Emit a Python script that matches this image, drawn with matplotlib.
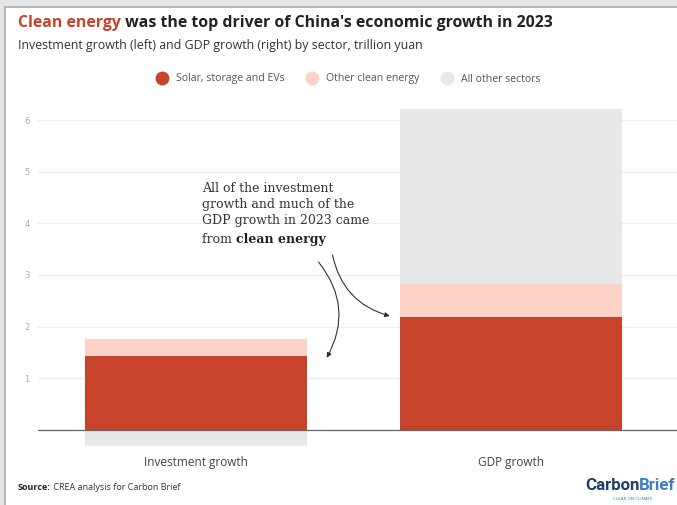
import matplotlib.pyplot as plt
from matplotlib.lines import Line2D
from matplotlib.patches import Rectangle

# growth in 2023, trillion yuan
categories = ["Investment growth", "GDP growth"]
solar_storage_evs = [1.43, 2.19]
other_clean = [0.33, 0.63]
all_other = [-0.31, 3.39]
series_names = ["Solar, storage and EVs", "Other clean energy", "All other sectors"]
yticks = [1, 2, 3, 4, 5, 6]

RED = "#c8432b"
PINK = "#fdd3c7"
GREY = "#e8e8e8"
SANS = "Open Sans"

fig = plt.figure(figsize=(6.77, 5.05), dpi=100)
fig.patch.set_facecolor("white")

# frame around the card
fig.patches.append(Rectangle((0, 1 - 6 / 505), 1, 6 / 505, transform=fig.transFigure,
                             facecolor="#e4e5e7", edgecolor="none", zorder=0))
fig.patches.append(Rectangle((0, 0), 5 / 677, 1, transform=fig.transFigure,
                             facecolor="#e4e5e7", edgecolor="none", zorder=0))
fig.lines.append(Line2D([5 / 677, 1], [1 - 7 / 505, 1 - 7 / 505], transform=fig.transFigure,
                        color="#a9aaad", lw=1.2))
fig.lines.append(Line2D([5.5 / 677, 5.5 / 677], [0, 1 - 7 / 505], transform=fig.transFigure,
                        color="#a9aaad", lw=1.2))

ax = fig.add_axes([38 / 677, 0.1129, 1 - 38 / 677, 0.675])
x = list(range(len(categories)))
w = 0.704

ax.bar(x, solar_storage_evs, width=w, color=RED, zorder=2)
ax.bar(x, other_clean, width=w, bottom=solar_storage_evs, color=PINK, zorder=2)
# the rest of the economy sits on top when it grew, hangs below zero when it shrank
other_bottom = [s + o if v > 0 else 0 for s, o, v in zip(solar_storage_evs, other_clean, all_other)]
ax.bar(x, all_other, width=w, bottom=other_bottom, color=GREY, zorder=2)

ax.set_xlim(-0.501, 1.525)
ax.set_ylim(-0.35, 6.25)
ax.set_yticks(yticks)
ax.set_yticklabels([str(t) for t in yticks])
ax.tick_params(axis="y", length=0, labelsize=6, labelcolor="#aaaaaa", pad=6)
ax.set_xticks([])
ax.grid(axis="y", color="#eeeeee", lw=0.9, zorder=0)
ax.axhline(0, color="#666666", lw=0.9, zorder=3)
for s in ax.spines.values():
    s.set_visible(False)

for xi, name in zip(x, categories):
    ax.text(xi, -0.5, name, ha="center", va="top", fontsize=8.5, color="#444444",
            fontfamily=SANS)

# annotation and arrows
note_font = dict(fontsize=9.0, family="DejaVu Serif")
ax.text(0.02, 4.8, "All of the investment\ngrowth and much of the\nGDP growth in 2023 came",
        color="#333333", va="top", linespacing=1.3, **note_font)
t_from = ax.text(0.02, 4.8 - 3 * 0.33, "from ", color="#333333", va="top", **note_font)
ax.annotate("clean energy", xy=(1, 0), xycoords=t_from, ha="left", va="bottom",
            color="#222222", fontweight="bold", **note_font)

arrow = dict(arrowstyle="-|>", color="#333333", lw=0.8, mutation_scale=7)
ax.annotate("", xy=(0.41, 1.35), xytext=(0.383, 3.29),
            arrowprops=dict(connectionstyle="arc3,rad=-0.35", **arrow))
ax.annotate("", xy=(1 - w / 2 - 0.025, solar_storage_evs[1]), xytext=(0.431, 3.44),
            arrowprops=dict(connectionstyle="arc3,rad=0.32", **arrow))

# title with coloured lead-in
t1 = fig.text(18 / 677, 1 - 23 / 505, "Clean energy", fontsize=11.4, fontweight="bold",
              color=RED, va="center", fontfamily=SANS)
fig.add_artist(plt.Annotation(" was the top driver of China's economic growth in 2023",
                              xy=(1, 0.5), xycoords=t1, va="center", ha="left",
                              fontsize=11.4, fontweight="bold", color="#222222",
                              fontfamily=SANS))
fig.text(18 / 677, 1 - 45 / 505,
         "Investment growth (left) and GDP growth (right) by sector, trillion yuan",
         fontsize=8.9, color="#333333", va="center", fontfamily=SANS)

handles = [Line2D([], [], marker="o", ls="none", markersize=9, color=c)
           for c in (RED, PINK, GREY)]
fig.legend(handles, series_names, loc="center", bbox_to_anchor=(346 / 677, 1 - 79 / 505),
           ncol=3, frameon=False, labelcolor="#555555", handletextpad=0.3,
           columnspacing=1.6, prop={"family": SANS, "size": 7.6})

src = fig.text(18 / 677, 1 - 487 / 505, "Source:", fontsize=6.5, fontweight="bold",
               color="#222222", va="center", fontfamily=SANS)
fig.add_artist(plt.Annotation(" CREA analysis for Carbon Brief", xy=(1, 0.5), xycoords=src,
                              va="center", ha="left", fontsize=6.5, color="#333333",
                              fontfamily=SANS))

# logo wordmark
logo = fig.text(585 / 677, 1 - 486 / 505, "Carbon", fontsize=12.2, fontweight="bold",
                color="#1e3f6b", va="center", fontfamily="Roboto")
fig.add_artist(plt.Annotation("Brief", xy=(1, 0.5), xycoords=logo, va="center", ha="left",
                              fontsize=12.2, fontweight="bold", color="#3f7fc1",
                              fontfamily="Roboto"))
fig.text(633 / 677, 1 - 499 / 505, "CLEAR ON CLIMATE", fontsize=3, color="#3f7fc1",
         va="center", ha="center")

fig.savefig("out.png", dpi=100)
